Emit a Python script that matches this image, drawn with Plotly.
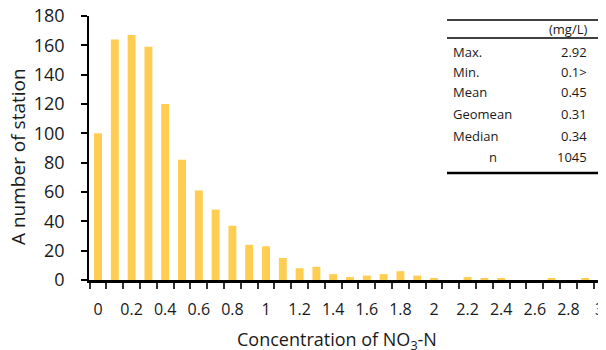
import plotly.graph_objects as go

# Data
conc_bins = [round(0.1 * k, 1) for k in range(30)]
station_counts = [100, 164, 167, 159, 120, 82, 61, 48, 37, 24,
                  23, 15, 8, 9, 4, 2, 3, 4, 6, 3,
                  1, 0, 2, 1, 1, 0, 0, 1, 0, 1]
tick_values = [0, 0.2, 0.4, 0.6, 0.8, 1, 1.2, 1.4, 1.6, 1.8, 2, 2.2, 2.4, 2.6, 2.8, 3]
tick_labels = ["0", "0.2", "0.4", "0.6", "0.8", "1", "1.2", "1.4", "1.6", "1.8",
               "2", "2.2", "2.4", "2.6", "2.8", "3"]
stat_names = ["Max.", "Min.", "Mean", "Geomean", "Median", "n"]
stat_values = ["2.92", "0.1>", "0.45", "0.31", "0.34", "1045"]
unit_label = "(mg/L)"
x_title = "Concentration of NO<sub>3</sub>-N"
y_title = "A number of station"

FONT = "Open Sans"
TXT = "#1a1a1a"

OFF = 8  # page body margin in the browser
# plot area in screen pixels
SL, ST, SR, SB = 89, 16, 606, 280
W, H = SR - OFF, 350 - OFF
L, T = SL - OFF, ST - OFF
R, B = 0, H - (SB - OFF)
pw, ph = W - L - R, H - T - B


def px(x):
    return (x - SL) / pw


def py(y):
    return (SB - y) / ph


# x scale: value 0 at screen x 98, 0.1 per 16.8 px
x_lo = (SL - 98) / 168.0
x_hi = (SR - 98) / 168.0

fig = go.Figure()
fig.add_trace(go.Bar(
    x=conc_bins, y=station_counts, width=0.047,
    marker=dict(color="#FFCD52", line=dict(width=0)),
    hoverinfo="x+y",
))

fig.update_layout(
    width=W, height=H,
    margin=dict(l=L, r=R, t=T, b=B, pad=0, autoexpand=False),
    paper_bgcolor="white", plot_bgcolor="white",
    showlegend=False,
    font=dict(family=FONT, color=TXT),
    xaxis=dict(
        range=[x_lo, x_hi], automargin=False,
        tickmode="array", tickvals=tick_values[:-1], ticktext=tick_labels[:-1],
        ticks="", ticklabelstandoff=13, ticklabeloverflow="allow",
        tickfont=dict(size=16, family=FONT, color=TXT),
        showgrid=False, zeroline=False,
        showline=True, linecolor="#000000", linewidth=2.5,
        minor=dict(tickmode="linear", tick0=-0.05, dtick=0.1,
                   ticks="outside", ticklen=6, tickwidth=1.5,
                   tickcolor="#333333", showgrid=False),
    ),
    yaxis=dict(
        range=[0, 180], tickmode="linear", tick0=0, dtick=20, automargin=False,
        ticks="outside", ticklen=6, tickwidth=1.5, tickcolor="#000000",
        ticklabelstandoff=13, ticklabeloverflow="allow",
        tickfont=dict(size=18, family=FONT, color=TXT),
        showgrid=False, zeroline=False,
        showline=True, linecolor="#000000", linewidth=1.5,
    ),
)

# last x tick label sits at the window edge; anchor it so it stays visible
fig.add_annotation(xref="x", yref="paper", x=tick_values[-1], y=py(309),
                   text=tick_labels[-1], showarrow=False, xanchor="right",
                   yanchor="middle", xshift=4,
                   font=dict(size=16, family=FONT, color=TXT))

# Axis titles
fig.add_annotation(xref="paper", yref="paper", x=px(337), y=py(340),
                   text=x_title, showarrow=False, xanchor="center", yanchor="middle",
                   font=dict(size=18, family=FONT, color=TXT))
fig.add_annotation(xref="paper", yref="paper", x=px(18), y=py(157),
                   text=y_title, showarrow=False, xanchor="center", yanchor="middle",
                   textangle=-90, font=dict(size=19, family=FONT, color=TXT))

# Statistics table
x0, x1 = px(447), px(601)
fig.add_shape(type="line", xref="paper", yref="paper", x0=x0, x1=x1,
              y0=py(20), y1=py(20), line=dict(color="#000000", width=1.5))
fig.add_shape(type="line", xref="paper", yref="paper", x0=x0, x1=x1,
              y0=py(38), y1=py(38), line=dict(color="#000000", width=1.5))
fig.add_shape(type="line", xref="paper", yref="paper", x0=x0, x1=x1,
              y0=py(173), y1=py(173), line=dict(color="#000000", width=2.5))

fig.add_annotation(xref="paper", yref="paper", x=px(568), y=py(29),
                   text=unit_label, showarrow=False, xanchor="center",
                   yanchor="middle", font=dict(size=13, family=FONT, color=TXT))

row_y = [52, 72, 92, 114, 136, 157]
for name, val, yy in zip(stat_names, stat_values, row_y):
    if name == "n":
        fig.add_annotation(xref="paper", yref="paper", x=px(493), y=py(yy),
                           text=name, showarrow=False, xanchor="center",
                           yanchor="middle", font=dict(size=13, family=FONT, color=TXT))
    else:
        fig.add_annotation(xref="paper", yref="paper", x=px(451), y=py(yy),
                           text=name, showarrow=False, xanchor="left",
                           yanchor="middle", font=dict(size=13, family=FONT, color=TXT))
    fig.add_annotation(xref="paper", yref="paper", x=px(589), y=py(yy),
                       text=val, showarrow=False, xanchor="right",
                       yanchor="middle", font=dict(size=13, family=FONT, color=TXT))

fig.write_html("out.html")
